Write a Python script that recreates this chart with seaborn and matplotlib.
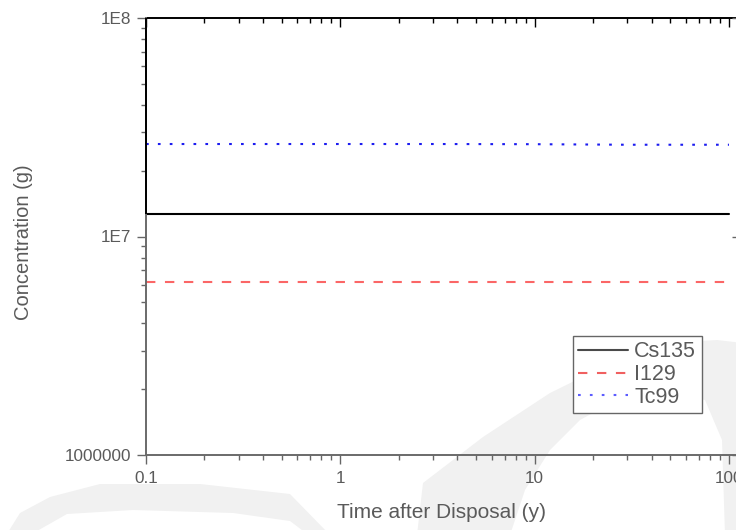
import numpy as np
import pandas as pd
import matplotlib
matplotlib.use("Agg")
import matplotlib.pyplot as plt
import seaborn as sns
from matplotlib.patches import Polygon
from matplotlib.lines import Line2D
from matplotlib.ticker import FixedLocator, FixedFormatter, LogLocator, NullFormatter, NullLocator

# ---------------- data ----------------
time_y = [0.1, 0.3, 1, 3, 10, 30, 100]
cs135 = [1.27e7, 1.27e7, 1.27e7, 1.27e7, 1.27e7, 1.27e7, 1.27e7]
i129 = [6.2e6, 6.2e6, 6.2e6, 6.2e6, 6.2e6, 6.2e6, 6.2e6]
tc99 = [2.65e7, 2.65e7, 2.65e7, 2.65e7, 2.645e7, 2.63e7, 2.63e7]
nuclides = ["Cs135", "I129", "Tc99"]

xtick_vals = [0.1, 1, 10, 100]
xtick_labels = ["0.1", "1", "10", "100"]
ytick_vals = [1e6, 1e7, 1e8]
ytick_labels = ["1000000", "1E7", "1E8"]

df = pd.DataFrame({
    "time": time_y * 3,
    "conc": cs135 + i129 + tc99,
    "nuclide": [nuclides[0]] * len(time_y) + [nuclides[1]] * len(time_y) + [nuclides[2]] * len(time_y),
})

# ---------------- style ----------------
sns.set_style("ticks")
plt.rcParams["font.family"] = ["Liberation Sans", "DejaVu Sans"]
GRAY = "#666666"
TXT = "#5a5a5a"

palette = {"Cs135": "#000000", "I129": "#fb6666", "Tc99": "#1c1cf0"}
dashes = {"Cs135": "", "I129": (4.5, 4.6), "Tc99": (1.3, 4.4)}

fig = plt.figure(figsize=(7.36, 5.30), dpi=100)
fig.patch.set_facecolor("white")

# watermark-like background swooshes (figure pixel coords, y from top)
def poly(points, color="#f1f1f1"):
    pts = [(x / 736, (530 - y) / 530) for x, y in points]
    p = Polygon(pts, closed=True, transform=fig.transFigure, facecolor=color,
                edgecolor="none", zorder=-5)
    fig.add_artist(p)

poly([(0, 545), (20, 513), (50, 497), (100, 484), (200, 484), (290, 494), (330, 535),
      (315, 540), (290, 521), (233, 513), (133, 510), (67, 514), (30, 535)])
poly([(417, 535), (423, 483), (483, 437), (550, 393), (617, 360), (667, 343), (717, 340),
      (760, 345), (760, 535), (725, 535), (722, 440), (705, 400), (650, 392), (617, 400),
      (580, 420), (550, 450), (525, 490), (510, 535)])

ax = fig.add_axes([146 / 736, 75 / 530, 591 / 736, 437 / 530])
ax.set_facecolor("none")
ax.set_zorder(1)

sns.lineplot(data=df, x="time", y="conc", hue="nuclide", style="nuclide",
             palette=palette, dashes=dashes, linewidth=1.5, ax=ax,
             legend=False, errorbar=None)

ax.set_xscale("log")
ax.set_yscale("log")
ax.set_xlim(0.1, 110)
ax.set_ylim(1e6, 1e8)

ax.xaxis.set_major_locator(FixedLocator(xtick_vals))
ax.xaxis.set_major_formatter(FixedFormatter(xtick_labels))
ax.xaxis.set_minor_locator(LogLocator(base=10, subs=np.arange(2, 10)))
ax.xaxis.set_minor_formatter(NullFormatter())
ax.yaxis.set_major_locator(FixedLocator(ytick_vals))
ax.yaxis.set_major_formatter(FixedFormatter(ytick_labels))
ax.yaxis.set_minor_locator(LogLocator(base=10, subs=np.arange(2, 10)))
ax.yaxis.set_minor_formatter(NullFormatter())

ax.tick_params(axis="both", which="major", direction="out", length=6.5, width=1.0,
               color=GRAY, labelcolor=TXT, labelsize=12.3)
ax.tick_params(axis="both", which="minor", direction="out", length=3.6, width=1.0, color=GRAY)
ax.tick_params(axis="x", which="major", pad=5)
ax.tick_params(axis="y", which="major", pad=4.3)
ax.tick_params(axis="both", which="both", top=False, right=False)

for s in ["left", "bottom"]:
    ax.spines[s].set_color("#6a6a6a")
    ax.spines[s].set_linewidth(1.4)
ax.spines["top"].set_visible(False)
ax.spines["right"].set_visible(False)
# upper part of the left axis line is dark
ax.plot([0, 0], [0.5515, 1], transform=ax.transAxes, color="black", lw=1.4,
        clip_on=False, solid_capstyle="butt", zorder=5)

# mirrored top axis, ticks inward
sx = ax.secondary_xaxis("top")
sx.xaxis.set_major_locator(FixedLocator(xtick_vals))
sx.xaxis.set_minor_locator(LogLocator(base=10, subs=np.arange(2, 10)))
sx.xaxis.set_minor_formatter(NullFormatter())
sx.tick_params(axis="x", which="major", direction="in", length=6.5, width=1.0,
               color="black", labeltop=False)
sx.tick_params(axis="x", which="minor", direction="in", length=3.6, width=1.0, color="black")
sx.spines["top"].set_color("black")
sx.spines["top"].set_linewidth(1.4)

# mirrored right axis, major ticks only, inward
sy = ax.secondary_yaxis("right")
sy.yaxis.set_major_locator(FixedLocator(ytick_vals))
sy.yaxis.set_minor_locator(NullLocator())
sy.tick_params(axis="y", which="major", direction="in", length=3.6, width=1.0,
               color=GRAY, labelright=False)
sy.spines["right"].set_color(GRAY)

ax.set_xlabel("Time after Disposal (y)", fontsize=15, color=TXT)
ax.set_ylabel("Concentration (g)", fontsize=14.5, color=TXT)
ax.xaxis.set_label_coords(0.5, -0.11)
ax.yaxis.set_label_coords(-0.191, 0.487)

handles = [
    Line2D([], [], color="#4a4a4a", lw=1.5, linestyle="-"),
    Line2D([], [], color="#f06060", lw=1.5, linestyle=(0, (4.5, 4.6))),
    Line2D([], [], color="#5c5cff", lw=1.5, linestyle=(0, (1.3, 4.4))),
]
leg = ax.legend(handles, nuclides, loc="upper left", bbox_to_anchor=(0.7225, 0.2723),
                fontsize=15.5, frameon=True, fancybox=False, framealpha=1,
                edgecolor="#666666", handlelength=2.3, handletextpad=0.3,
                labelspacing=0.08, borderpad=0.25, borderaxespad=0)
leg.get_frame().set_linewidth(1.0)
for t in leg.get_texts():
    t.set_color(TXT)

fig.savefig("out.png", dpi=100, facecolor="white")
